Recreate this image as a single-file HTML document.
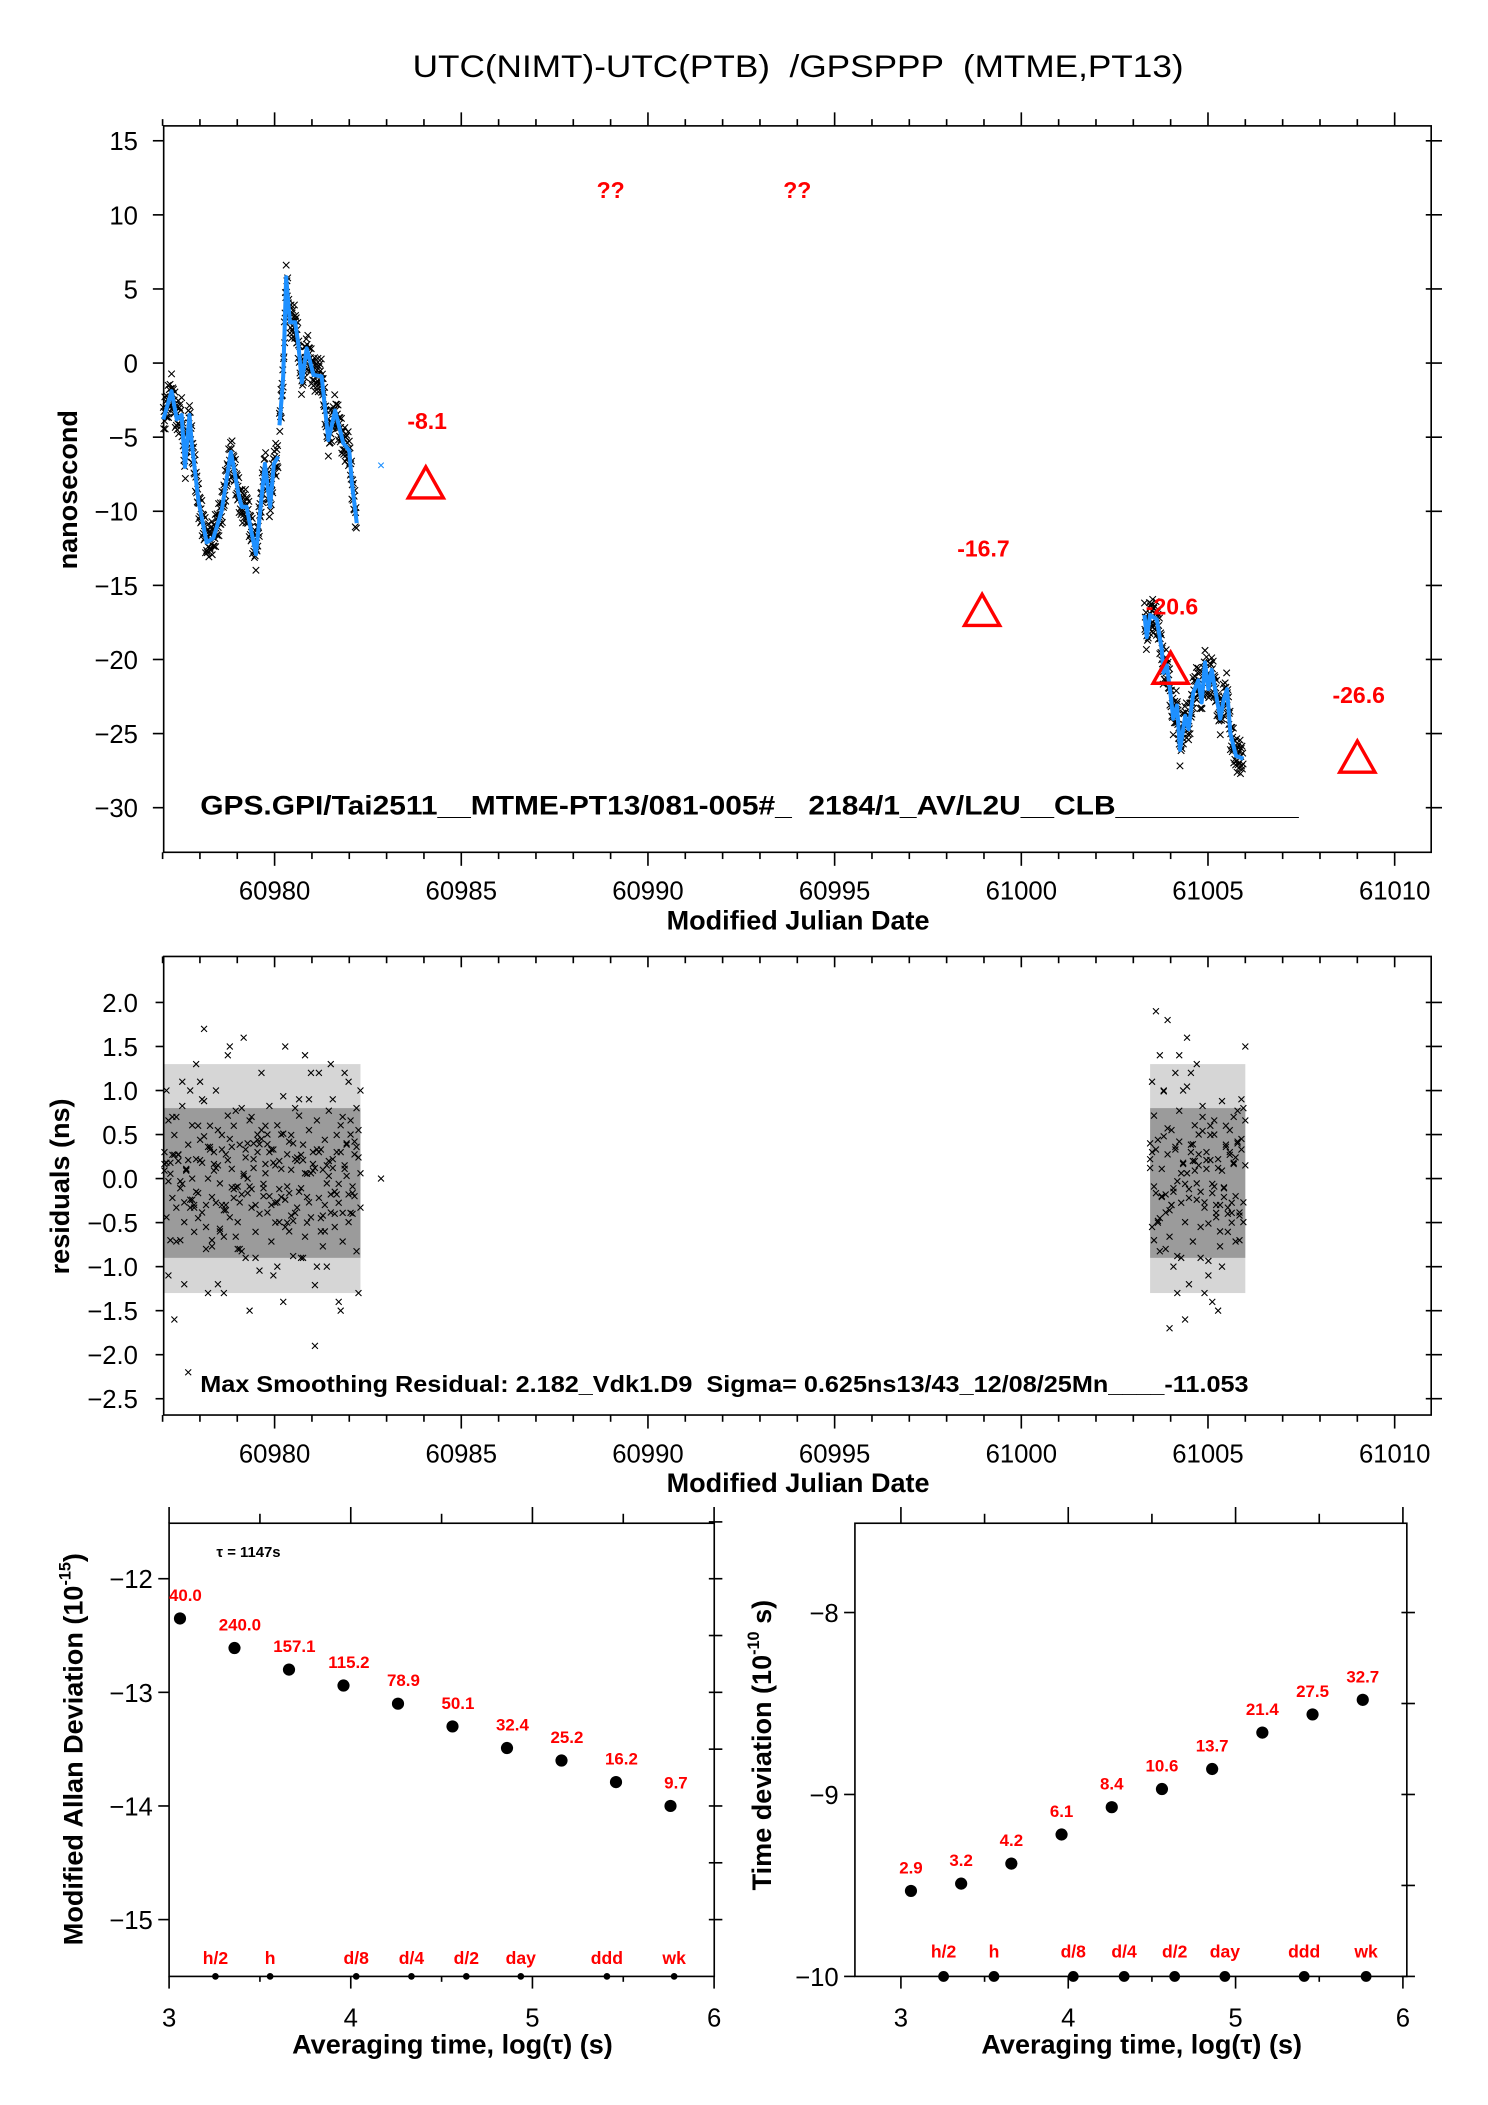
<!DOCTYPE html>
<html><head><meta charset="utf-8"><style>
html,body{margin:0;padding:0;background:#fff;}
svg{display:block;font-family:"Liberation Sans",Arial,sans-serif;}
text{white-space:pre;}
</style></head><body>
<svg id="chart" width="1488" height="2105" viewBox="0 0 1100 1556" xmlns="http://www.w3.org/2000/svg">
<text x="305" y="57" font-size="23" textLength="570" lengthAdjust="spacingAndGlyphs">UTC(NIMT)-UTC(PTB)  /GPSPPP  (MTME,PT13)</text>
</svg>
<script>
// ---------- TOP CHART DATA ----------
const seg1Mjd = [60977.02,60977.24,60977.38,60977.51,60977.6,60977.72,60977.78,60977.96,60978.18,60978.36,60978.58,60978.83,60979.03,60979.12,60979.25,60979.34,60979.5,60979.74,60979.88,60979.98,60980.1];
const seg1Val = [-3.8,-1.9,-3.8,-3.5,-7.0,-3.5,-5.4,-9.3,-12.1,-11.8,-10.0,-6.0,-8.8,-9.7,-9.7,-10.9,-12.9,-6.8,-9.7,-6.8,-6.3];
const seg2Mjd = [60980.13,60980.2,60980.23,60980.31,60980.41,60980.55,60980.63,60980.73,60980.86,60981.04,60981.26,60981.44,60981.62,60981.84,60982.0,60982.07,60982.2];
const seg2Val = [-4.2,-2.0,-0.9,5.8,2.75,2.75,1.4,-1.3,1.0,-0.8,-0.9,-5.2,-3.2,-5.4,-5.9,-8.1,-10.8];
const seg3Mjd = [61003.3,61003.36,61003.45,61003.63,61003.76,61003.81,61003.9,61003.99,61004.07,61004.17,61004.25,61004.39,61004.48,61004.61,61004.74,61004.83,61004.92,61005.01,61005.1,61005.19,61005.33,61005.42,61005.51,61005.6,61005.75,61005.95];
const seg3Val = [-17.0,-18.5,-17.0,-17.3,-19.3,-20.9,-20.4,-22.2,-24.0,-23.1,-26.1,-23.8,-24.7,-22.2,-21.4,-22.9,-20.2,-22.0,-20.7,-22.0,-24.0,-22.7,-22.0,-25.0,-26.5,-26.7];
const isoMjd = [60982.85];
const isoVal = [-6.9];
const triMjd = [60984.05,60998.95,61004.0,61009.0];
const triVal = [-8.1,-16.7,-20.6,-26.6];
const triLabels = ["-8.1","-16.7","-20.6","-26.6"];
const qMjd = [60989.0,60994.0];
const qVal = [11.5,11.5];
const topYTicks = [15,10,5,0,-5,-10,-15,-20,-25,-30];
const mjdTicks = [60980,60985,60990,60995,61000,61005,61010];

// ---------- RESIDUALS DATA ----------
const res1Start = 60977.05, res1End = 60982.3;
const res1 = [0.3,-0.8,1.2,0.1,-0.4,0.9,-1.3,0.5,-0.2,1.5,-0.9,0.2,0.7,-0.6,1.1,-1.1,0.4,-0.3,0.8,-0.7,1.6,-1.0,0.0,0.6,-1.4,0.3,-0.5,1.0,-0.1,0.9,-1.2,0.5,1.3,-0.8,0.2,-0.4,1.4,-0.9,0.7,-1.5,0.1,0.6,-0.3,1.2,-0.6,0.4,-1.1,0.8,-1.9,1.0,-0.2,0.3,-0.7,1.5,-1.3,0.6,-0.5,1.1,-0.9,0.2,1.7,-1.0,0.5,-0.3,0.9,-1.6,0.4,-0.6,1.3,-0.2,0.7,-1.2,0.1,1.0,-0.8,0.3,-2.2,1.2,-0.4,0.6,-1.4,0.8,-0.1,1.4,-0.7,0.4,-1.0,0.9,-0.5,1.1,-1.3,0.2,0.7,-0.9,1.2,-0.3,0.5,-1.5,1.0,-0.6];
const res2Start = 61003.45, res2End = 61006.0;
const res2 = [0.4,-1.0,1.3,-0.3,0.8,-1.5,0.2,1.8,-0.7,0.5,-1.2,1.0,-0.2,0.6,-1.6,1.4,-0.5,0.3,-0.9,1.9,-0.4,0.7,-1.3,1.1,-0.1,0.5,-1.0,1.5,-0.6,0.2,-1.7,0.9,-0.3,1.2,-0.8,0.4,-1.4,1.6,-0.2,0.7,-1.1,1.0,-0.5,0.3,-1.3,1.4,-0.7,0.6,-0.9,1.2];
const resIsoMjd = [60982.85];
const resIsoVal = [0.0];
const resYTicks = [2.0,1.5,1.0,0.5,0.0,-0.5,-1.0,-1.5,-2.0,-2.5];

// ---------- MDEV DATA ----------
const logTau = [3.06,3.36,3.66,3.96,4.26,4.56,4.86,5.16,5.46,5.76];
const mdevVal = [-12.35,-12.61,-12.8,-12.94,-13.1,-13.3,-13.49,-13.6,-13.79,-14.0];
const mdevLabels = ["40.0","240.0","157.1","115.2","78.9","50.1","32.4","25.2","16.2","9.7"];
const tdevVal = [-9.53,-9.49,-9.38,-9.22,-9.07,-8.97,-8.86,-8.66,-8.56,-8.48];
const tdevLabels = ["2.9","3.2","4.2","6.1","8.4","10.6","13.7","21.4","27.5","32.7"];
const markLog = [3.255,3.556,4.03,4.334,4.636,4.936,5.41,5.78];
const markLabels = ["h/2","h","d/8","d/4","d/2","day","ddd","wk"];
const logTicks = [3,4,5,6];
const mdevTicks = [-12,-13,-14,-15];
const tdevTicks = [-8,-9,-10];

const svg = document.getElementById('chart');
const NS = 'http://www.w3.org/2000/svg';
function mk(tag, attrs, parent){
  const e = document.createElementNS(NS, tag);
  for (const k in attrs) e.setAttribute(k, attrs[k]);
  (parent||svg).appendChild(e);
  return e;
}
function line(x1,y1,x2,y2,w,c){ return mk('line',{x1:x1,y1:y1,x2:x2,y2:y2,stroke:c||'#000','stroke-width':w||1.2}); }
function txt(x,y,s,size,anchor,extra){ const t = mk('text',Object.assign({x:x,y:y,'font-size':size,'text-anchor':anchor||'middle'},extra||{})); t.textContent=s; return t; }
function cross(g,x,y,s){ const p = mk('path',{d:`M${x-s},${y-s}L${x+s},${y+s}M${x-s},${y+s}L${x+s},${y-s}`,stroke:'#000','stroke-width':0.8,fill:'none'},g); return p; }

// ====== TOP CHART ======
const T = {l:121,r:1058,t:93,b:630};
const xT = d => 203 + (d-60980)*27.6;
const yT = v => 104 + (15-v)*10.956;
let r = mk('rect',{x:T.l,y:T.t,width:T.r-T.l,height:T.b-T.t,fill:'none',stroke:'#000','stroke-width':1.2});


for (let d=60977; d<=61010; d++){
  const major = d%5===0;
  const x = xT(d);
  line(x,T.t,x,T.t-(major?10:5));
  line(x,T.b,x,T.b+(major?10:5));
}
mjdTicks.forEach(d=>{
  const t = txt(xT(d),665,String(d),19);
  
  
});
topYTicks.forEach(v=>{
  const y=yT(v);
  line(T.l-8,y,T.l,y); line(T.r-4,y,T.r+8,y);
  const t = txt(102,y+7,String(v).replace('-','\u2212'),19,'end');
  
  
});
let tt = txt(590,687,'Modified Julian Date',20,'middle',{'font-weight':'bold'});


tt = txt(0,0,'nanosecond',20,'middle',{'font-weight':'bold',transform:'translate(57,362) rotate(-90)'});



const crossG = mk('g',{});


const band = [0.9,-0.8,0.4,-0.4,1.3,-1.2,0.1,0.7,-0.6];
function drawSeg(ms,vs,name){
  let k=0;
  for(let i=0;i<ms.length-1;i++){
    const n = Math.max(2,Math.round((ms[i+1]-ms[i])/0.01));
    for(let j=0;j<n;j++){
      const f=j/n; const d=ms[i]+(ms[i+1]-ms[i])*f; const v=vs[i]+(vs[i+1]-vs[i])*f;
      cross(crossG,xT(d),yT(v+band[k%band.length]*0.9),2.4); k++;
    }
  }
  const pl = mk('polyline',{points:ms.map((d,i)=>xT(d)+','+yT(vs[i])).join(' '),fill:'none',stroke:'#1e90ff','stroke-width':3,'stroke-linejoin':'round'});
  
  
}
drawSeg(seg1Mjd,seg1Val,'smoothed-line-segment-1');
drawSeg(seg2Mjd,seg2Val,'smoothed-line-segment-2');
drawSeg(seg3Mjd,seg3Val,'smoothed-line-segment-3');
isoMjd.forEach((d,i)=>{ const c=cross(svg,xT(d),yT(isoVal[i]),2); c.setAttribute('stroke','#1e90ff'); });

triMjd.forEach((d,i)=>{
  const x=xT(d), y=yT(triVal[i]);
  const p = mk('polygon',{points:`${x},${y-12} ${x-13},${y+11} ${x+13},${y+11}`,fill:'none',stroke:'#f00','stroke-width':2.5});
  
  
  const t = txt(x+1,y-40,triLabels[i],17,'middle',{'font-weight':'bold',fill:'#f00'});
  
  
});
qMjd.forEach((d,i)=>{
  const t = txt(xT(d),yT(qVal[i])+4,'??',17,'middle',{'font-weight':'bold',fill:'#f00'});
  
  
});
tt = txt(148,602,'GPS.GPI/Tai2511__MTME-PT13/081-005#_  2184/1_AV/L2U__CLB___________',20,'start',{'font-weight':'bold',textLength:812,lengthAdjust:'spacingAndGlyphs'});



// ====== RESIDUALS ======
const M = {l:121,r:1058,t:707,b:1046};
const yM = v => 741 + (2-v)*65.1;
r = mk('rect',{x:M.l,y:M.t,width:M.r-M.l,height:M.b-M.t,fill:'none',stroke:'#000','stroke-width':1.2});


for (let d=60977; d<=61010; d++){
  const major = d%5===0; const x = xT(d);
  line(x,M.t,x,M.t+(major?8:5));
  line(x,M.b,x,M.b+(major?10:5));
}
mjdTicks.forEach(d=>{
  const t = txt(xT(d),1081,String(d),19);
  
  
});
resYTicks.forEach(v=>{
  const y=yM(v);
  line(M.l-6,y,M.l,y); line(M.r-4,y,M.r+8,y);
  const t = txt(102,y+7,v.toFixed(1).replace('-','\u2212'),19,'end');
  
  
});
tt = txt(590,1103,'Modified Julian Date',20,'middle',{'font-weight':'bold'});


tt = txt(0,0,'residuals (ns)',20,'middle',{'font-weight':'bold',transform:'translate(51,877) rotate(-90)'});


const resG = mk('g',{});


function drawRes(arr,s,e){
  mk('rect',{x:xT(s),y:yM(1.3),width:xT(e)-xT(s),height:yM(-1.3)-yM(1.3),fill:'#777',opacity:0.3},resG);
  mk('rect',{x:xT(s),y:yM(0.8),width:xT(e)-xT(s),height:yM(-0.9)-yM(0.8),fill:'#444',opacity:0.4},resG);
  const span=(e-s);
  arr.forEach((v,i)=>{
    const d = s + span*((i*37)%arr.length)/(arr.length-1);
    cross(resG,xT(d),yM(v),2.2);
    cross(resG,xT(s+span*i/(arr.length-1)),yM(v*0.55),2.2);
    cross(resG,xT(s+span*((i*61)%arr.length)/(arr.length-1)),yM(v*0.3),2.2);
  });
}
drawRes(res1,res1Start,res1End);
drawRes(res2,res2Start,res2End);
resIsoMjd.forEach((d,i)=>cross(resG,xT(d),yM(resIsoVal[i]),2.2));
tt = txt(148,1029,'Max Smoothing Residual: 2.182_Vdk1.D9  Sigma= 0.625ns13/43_12/08/25Mn____-11.053',17,'start',{'font-weight':'bold',textLength:775,lengthAdjust:'spacingAndGlyphs'});



// ====== SMALL PLOTS ======
function smallPlot(o){
  const x = v => o.x0 + (v-3)*o.xs;
  const y = v => o.y0 + (o.v0-v)*o.ys;
  const f = mk('rect',{x:o.l,y:o.t,width:o.r-o.l,height:o.b-o.t,fill:'none',stroke:'#000','stroke-width':1.2});
  
  
  for(let v=3; v<=6.001; v+=0.5){
    const maj = Math.abs(v-Math.round(v))<1e-6;
    line(x(v),o.t,x(v),o.t-(maj?12:7));
    line(x(v),o.b,x(v),o.b+(maj?9:4));
  }
  logTicks.forEach(v=>{
    const t = txt(x(v),1498,String(v),19);
    
    
  });
  o.ticks.forEach(v=>{
    line(o.l-8,y(v),o.l,y(v));
    const t = txt(o.l-12,y(v)+7,String(v).replace('-','\u2212'),19,'end');
    
    
  });
  for(let v=o.ticks[0]+0.5; v>=o.ticks[o.ticks.length-1]-0.001; v-=0.5){
    if (y(v)>=o.t-1 && y(v)<=o.b+1) line(o.r-4,y(v),o.r+6,y(v));
  }
  const xt = txt((o.l+o.r)/2+8,1518,'Averaging time, log(\u03c4) (s)',20,'middle',{'font-weight':'bold'});
  
  
  const yt = mk('text',{'font-size':20,'font-weight':'bold','text-anchor':'middle',transform:`translate(${o.ylx},${o.yly}) rotate(-90)`});
  yt.innerHTML = o.ylab;
  
  
  logTau.forEach((lt,i)=>{
    const c = mk('circle',{cx:x(lt),cy:y(o.vals[i]),r:4.5,fill:'#000'});
    
    
    const t = txt(x(lt)+o.lx,y(o.vals[i])-13,o.labels[i],12.5,'middle',{'font-weight':'bold',fill:'#f00'});
    
    
  });
  markLog.forEach((lt,i)=>{
    const c = mk('circle',{cx:x(lt),cy:o.b,r:o.mr,fill:'#000'});
    
    
    const t = txt(x(lt),o.b-o.mly,markLabels[i],13,'middle',{'font-weight':'bold',fill:'#f00'});
    
    
  });
}
smallPlot({name:'mdev',l:125,r:528,t:1126,b:1461,x0:125,xs:134.3,y0:1167,v0:-12,ys:84,ticks:mdevTicks,
  vals:mdevVal,labels:mdevLabels,lx:4,mr:2.5,mly:9,ylx:61,yly:1293,
  ylab:'Modified Allan Deviation (10<tspan font-size="12" dy="-9">-15</tspan><tspan dy="9">)</tspan>'});
smallPlot({name:'tdev',l:632,r:1040,t:1126,b:1461,x0:666,xs:123.7,y0:1192,v0:-8,ys:134.5,ticks:tdevTicks,
  vals:tdevVal,labels:tdevLabels,lx:0,mr:4,mly:14,ylx:570,yly:1290,
  ylab:'Time deviation (10<tspan font-size="12" dy="-9">-10</tspan><tspan dy="9"> s)</tspan>'});
tt = txt(160,1151,'\u03c4 = 1147s',11,'start',{'font-weight':'bold'});


</script>
</body></html>
